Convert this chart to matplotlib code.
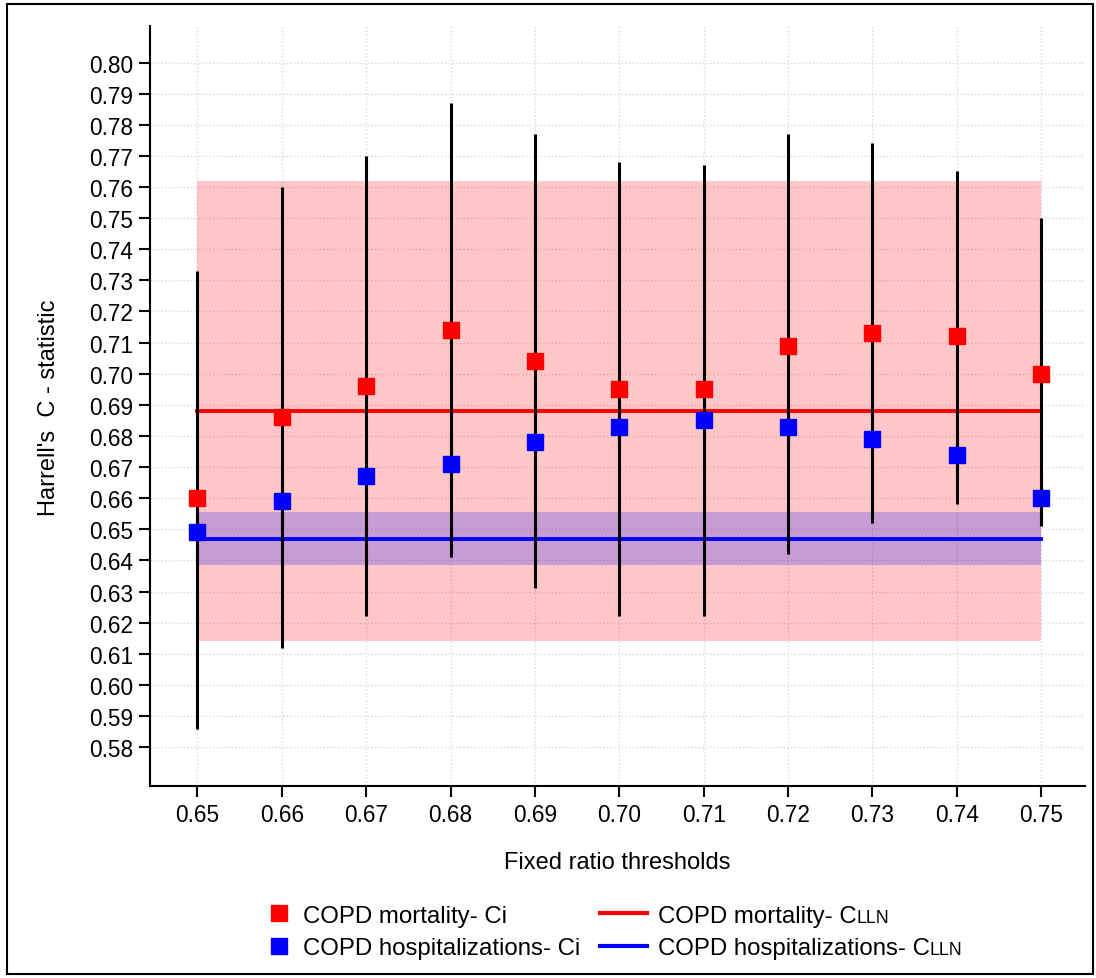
import matplotlib
matplotlib.use("Agg")
import matplotlib.pyplot as plt
from matplotlib.lines import Line2D
from matplotlib.patches import Rectangle

plt.rcParams['font.family'] = ['Liberation Sans', 'DejaVu Sans']

# data
thresholds = [0.65, 0.66, 0.67, 0.68, 0.69, 0.70, 0.71, 0.72, 0.73, 0.74, 0.75]
mort_ci = [0.660, 0.686, 0.696, 0.714, 0.704, 0.695, 0.695, 0.709, 0.713, 0.712, 0.700]
mort_lo = [0.586, 0.612, 0.622, 0.641, 0.631, 0.622, 0.622, 0.642, 0.652, 0.658, 0.651]
mort_hi = [0.733, 0.760, 0.770, 0.787, 0.777, 0.768, 0.767, 0.777, 0.774, 0.765, 0.750]
hosp_ci = [0.649, 0.659, 0.667, 0.671, 0.678, 0.683, 0.685, 0.683, 0.679, 0.674, 0.660]
hosp_lo = [0.641, 0.651, 0.659, 0.663, 0.670, 0.675, 0.677, 0.675, 0.671, 0.666, 0.652]
hosp_hi = [0.657, 0.667, 0.675, 0.679, 0.686, 0.691, 0.693, 0.691, 0.687, 0.682, 0.668]

mort_lln = 0.688
mort_lln_band = (0.614, 0.762)
hosp_lln = 0.647
hosp_lln_band = (0.6385, 0.6555)

fs_tick = 16.3
fs_lab = 17
fs_leg = 17.3

fig = plt.figure(figsize=(10.96, 9.79), dpi=100)
ax = fig.add_axes([0.137, 0.196, 0.853, 0.776])

x0, x1 = thresholds[0], thresholds[-1]
ax.fill_between([x0, x1], mort_lln_band[0], mort_lln_band[1], color='red', alpha=0.22, lw=0, zorder=1)
ax.fill_between([x0, x1], hosp_lln_band[0], hosp_lln_band[1], color='blue', alpha=0.22, lw=0, zorder=1)
ax.plot([x0, x1], [mort_lln, mort_lln], color='red', lw=2.8, zorder=3)
ax.plot([x0, x1], [hosp_lln, hosp_lln], color='blue', lw=2.8, zorder=3)

mort_err = [[c - l for c, l in zip(mort_ci, mort_lo)], [h - c for c, h in zip(mort_ci, mort_hi)]]
hosp_err = [[c - l for c, l in zip(hosp_ci, hosp_lo)], [h - c for c, h in zip(hosp_ci, hosp_hi)]]
ax.errorbar(thresholds, mort_ci, yerr=mort_err, fmt='none', ecolor='black', elinewidth=2.2, capsize=0, zorder=4)
ax.errorbar(thresholds, hosp_ci, yerr=hosp_err, fmt='none', ecolor='black', elinewidth=2.2, capsize=0, zorder=4)
ax.plot(thresholds, mort_ci, 's', color='red', ms=11, mec='red', zorder=5)
ax.plot(thresholds, hosp_ci, 's', color='blue', ms=11, mec='blue', zorder=5)

ax.set_xlim(0.6444, 0.7552)
ax.set_ylim(0.5675, 0.8116)
ax.set_xticks(thresholds)
ax.set_xticklabels(['%.2f' % t for t in thresholds])
yt = [round(0.58 + 0.01 * i, 2) for i in range(23)]
ax.set_yticks(yt)
ax.set_yticklabels(['%.2f' % t for t in yt])
ax.tick_params(labelsize=fs_tick, length=8, width=1.5, pad=4)
ax.grid(True, color='#d8d8d8', linestyle=':', linewidth=1.0, zorder=0)
ax.set_axisbelow(True)
for s in ['top', 'right']:
    ax.spines[s].set_visible(False)
for s in ['left', 'bottom']:
    ax.spines[s].set_linewidth(1.5)

ax.set_xlabel('Fixed ratio thresholds', fontsize=fs_lab, labelpad=18)
ax.set_ylabel("Harrell's  C - statistic", fontsize=fs_lab, labelpad=21)

# two legend columns, drawn as two legends so handles can differ
pts = [Line2D([], [], marker='s', color='red', ls='none', ms=11),
       Line2D([], [], marker='s', color='blue', ls='none', ms=11)]
lines = [Line2D([], [], color='red', lw=3), Line2D([], [], color='blue', lw=3)]
leg_kw = dict(loc='upper left', frameon=False, fontsize=fs_leg, labelspacing=0.44,
              borderaxespad=0, borderpad=0)
fig.legend(pts, ['COPD mortality- Ci', 'COPD hospitalizations- Ci'],
           bbox_to_anchor=(0.2436, 0.0748), handlelength=1.0, handletextpad=0.5, **leg_kw)
leg2 = fig.legend(lines, ['COPD mortality- C', 'COPD hospitalizations- C'],
                  bbox_to_anchor=(0.5474, 0.0748), handlelength=1.96, handletextpad=0.46, **leg_kw)

# small-caps "LLN" after the C of the line entries
fig.canvas.draw()
rend = fig.canvas.get_renderer()
for t in leg2.get_texts():
    bb = t.get_window_extent(rend)
    _, _, d = rend.get_text_width_height_descent('lp', t.get_fontproperties(), ismath=False)
    fig.text(bb.x1 / fig.bbox.width, (bb.y0 + d) / fig.bbox.height, 'LLN',
             fontsize=fs_leg * 0.74, ha='left', va='baseline')

fig.patches.append(Rectangle((0.006, 0.004), 0.991, 0.991, transform=fig.transFigure,
                             fill=False, edgecolor='black', lw=1.5))

fig.savefig('out.png', dpi=100)
